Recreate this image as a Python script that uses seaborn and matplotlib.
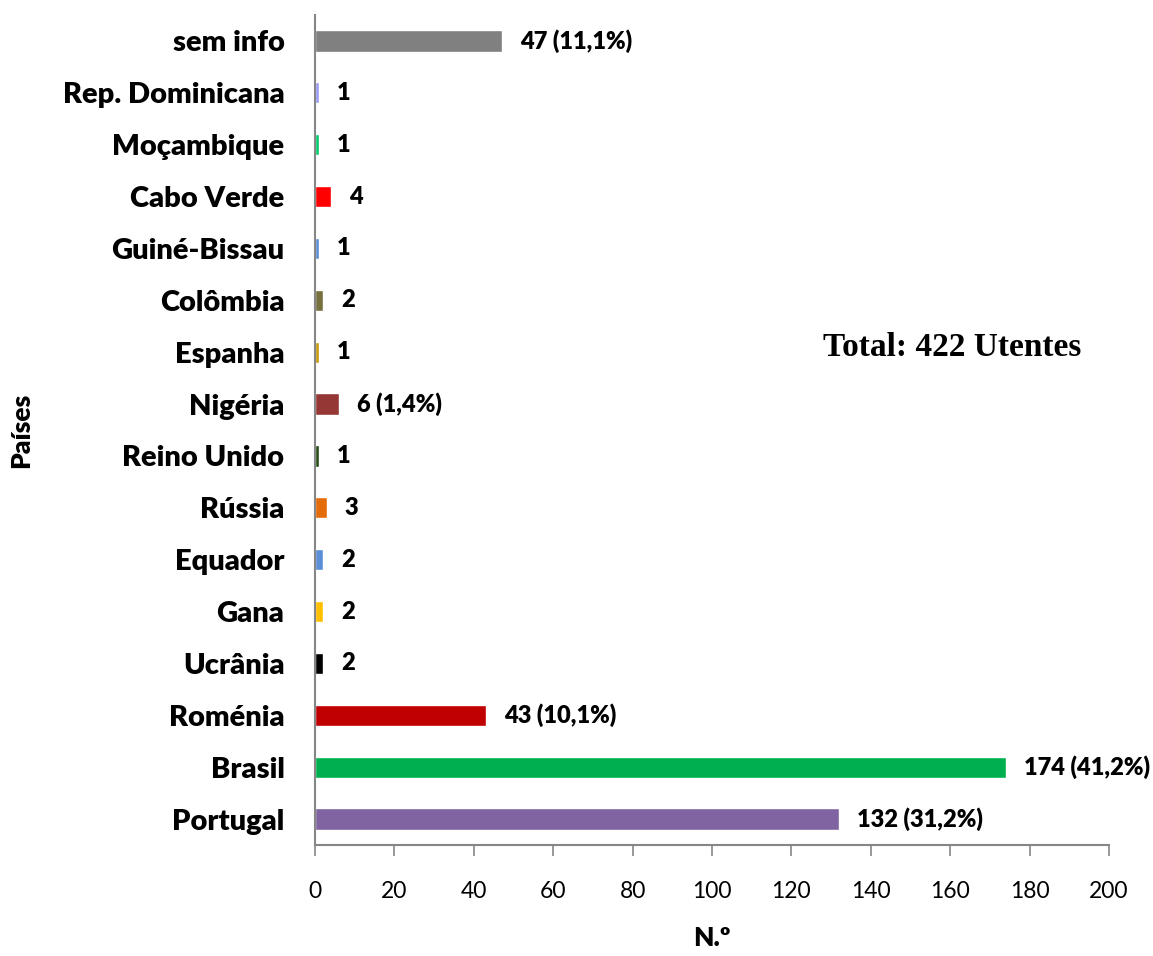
import matplotlib
matplotlib.use("Agg")
import matplotlib.pyplot as plt
import seaborn as sns
import pandas as pd

paises = ["sem info", "Rep. Dominicana", "Moçambique", "Cabo Verde", "Guiné-Bissau",
          "Colômbia", "Espanha", "Nigéria", "Reino Unido", "Rússia", "Equador",
          "Gana", "Ucrânia", "Roménia", "Brasil", "Portugal"]
utentes = [47, 1, 1, 4, 1, 2, 1, 6, 1, 3, 2, 2, 2, 43, 174, 132]
rotulos = ["47 (11,1%)", "1", "1", "4", "1", "2", "1", "6 (1,4%)", "1", "3", "2",
           "2", "2", "43 (10,1%)", "174 (41,2%)", "132 (31,2%)"]
cores = ["#808080", "#9D9DF7", "#00CC6A", "#FF0000", "#5B8FD6", "#77703F",
         "#C99A0A", "#953735", "#254E16", "#E46C0A", "#5B8FD6", "#FFC000",
         "#000000", "#C00000", "#00B050", "#8064A2"]
ticks_x = [0, 20, 40, 60, 80, 100, 120, 140, 160, 180, 200]

df = pd.DataFrame({"País": paises, "Utentes": utentes})

sns.set_theme(style="white")
plt.rcParams["font.family"] = ["Lato", "DejaVu Sans"]
plt.rcParams["text.color"] = "black"
plt.rcParams["axes.labelcolor"] = "black"
plt.rcParams["xtick.color"] = "black"
plt.rcParams["ytick.color"] = "black"

fig = plt.figure(figsize=(11.53, 9.56), dpi=100)
ax = fig.add_axes([0.2732, 0.1161, 0.6886, 0.8682])

sns.barplot(data=df, x="Utentes", y="País", hue="País", order=paises,
            palette=dict(zip(paises, cores)), orient="h", width=0.41,
            legend=False, ax=ax, saturation=1)

# value labels next to each bar
for cont, lab in zip(ax.containers, rotulos):
    bar = cont.patches[0]
    ax.annotate(lab, xy=(bar.get_width(), bar.get_y() + bar.get_height() / 2),
                xytext=(13, 0), textcoords="offset points", ha="left", va="center",
                fontsize=17, fontweight="heavy", color="black")

ax.set_xlim(0, 200)
ax.set_xticks(ticks_x)
ax.set_xticklabels([str(t) for t in ticks_x], fontsize=16.5)
ax.tick_params(axis="x", direction="out", length=8, width=1.2, color="#868686",
               labelcolor="black", pad=18, bottom=True)
ax.tick_params(axis="y", length=0, pad=22, labelcolor="black")
for lbl in ax.get_yticklabels():
    lbl.set_fontsize(21)
    lbl.set_fontweight("heavy")

for side in ["top", "right"]:
    ax.spines[side].set_visible(False)
for side in ["left", "bottom"]:
    ax.spines[side].set_color("#868686")
    ax.spines[side].set_linewidth(1.5)

ax.set_xlabel("N.º", fontsize=19, fontweight="heavy", color="black")
ax.xaxis.set_label_coords(0.5, -0.097)
ax.set_ylabel("Países", fontsize=19, fontweight="heavy", color="black")
ax.yaxis.set_label_coords(-0.355, 0.5)

ax.text(0.64, 0.60, "Total: 422 Utentes", transform=ax.transAxes,
        fontsize=24, fontweight="bold", family=["Liberation Serif", "DejaVu Serif"],
        ha="left", va="center", color="black")

fig.savefig("out.png", dpi=100)
